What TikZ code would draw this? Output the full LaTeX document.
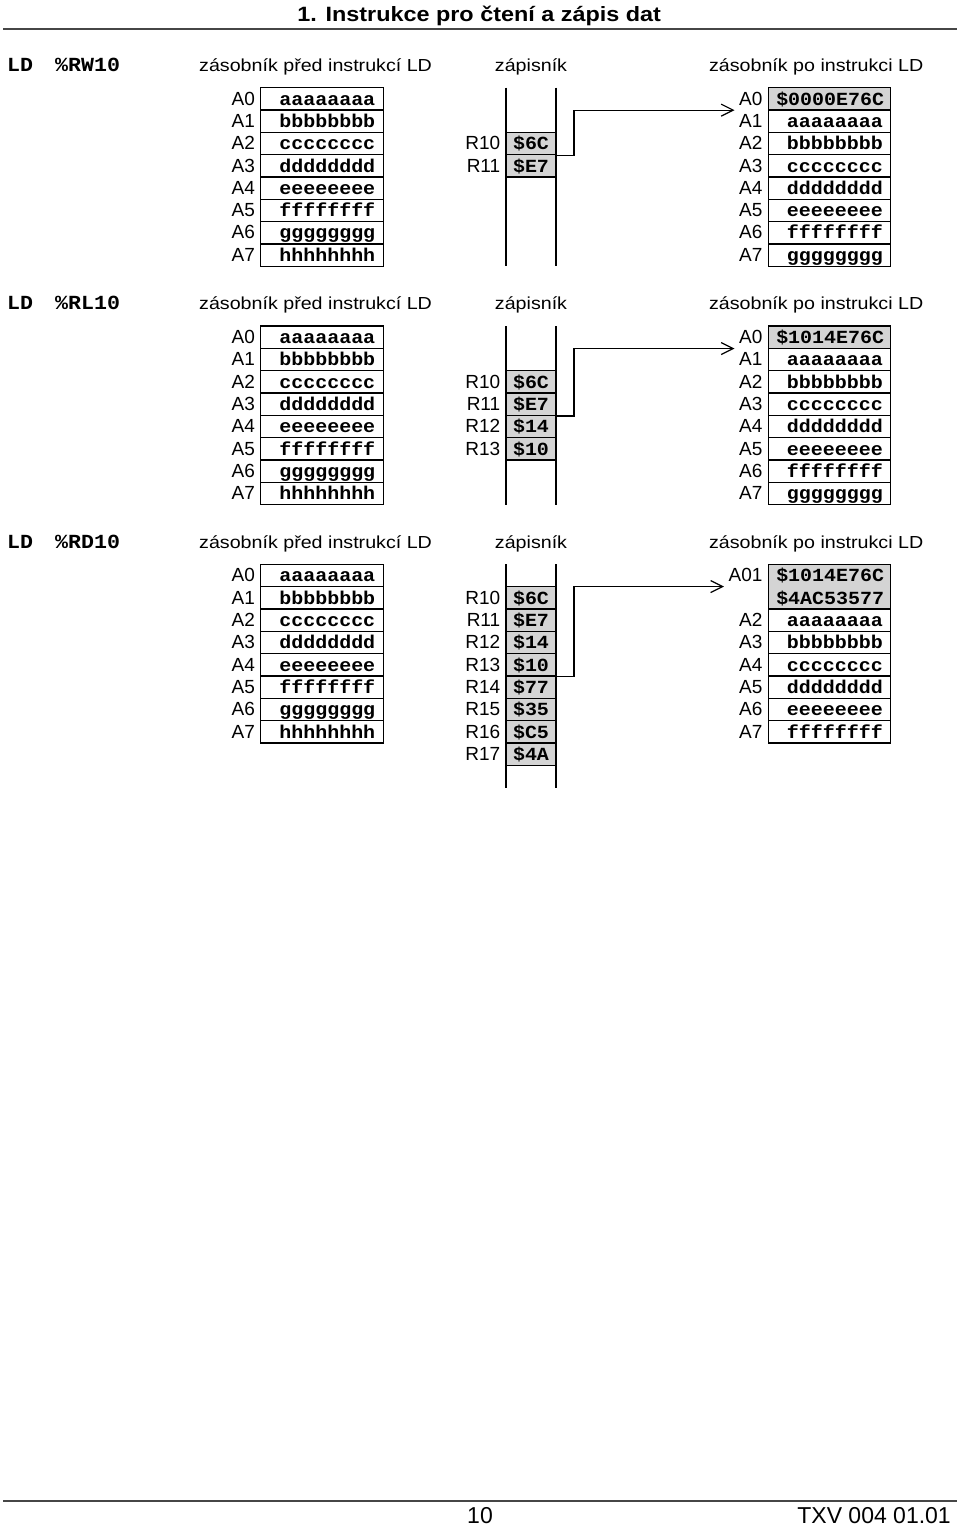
\documentclass[tikz,border=0pt]{standalone}
\usepackage{fontspec}
\usepackage{xcolor}
\newfontfamily\widesans[FakeStretch=1.13]{Liberation Sans}
\newfontfamily\plainsans{Liberation Sans}
\newfontfamily\codefont[FakeStretch=1.08]{Liberation Mono}
\newcommand{\txtfont}{\plainsans\fontsize{19}{22}\selectfont}
\newcommand{\headfont}{\widesans\fontsize{17.4}{21}\selectfont}
\newcommand{\valfont}{\codefont\bfseries\fontsize{18.5}{22.33}\selectfont}
\newcommand{\opfont}{\codefont\bfseries\fontsize{20}{24}\selectfont}
\newcommand{\titlefont}{\widesans\bfseries\fontsize{20.7}{24}\selectfont}
\newcommand{\footfont}{\plainsans\fontsize{23}{26}\selectfont}
\definecolor{cellgray}{RGB}{212,212,212}
\definecolor{rulegray}{RGB}{70,70,70}
\usepackage{tikz}
\usetikzlibrary{arrows.meta, positioning, calc}

\tikzset{
  cell/.style={draw, line width=1.2pt, minimum width=122.5pt, minimum height=22.33pt,
    inner xsep=8pt, inner ysep=0pt, text width=106.5pt, align=right,
    text height=17.4pt, text depth=4.93pt, font=\valfont},
  hot/.style={fill=cellgray},
  reg/.style={draw, line width=1.2pt, fill=cellgray, minimum width=50pt, minimum height=22.33pt,
    inner sep=0pt, text height=17.4pt, text depth=4.93pt, font=\valfont},
  lbl/.style={anchor=east, inner sep=0pt, text height=17.4pt, text depth=4.93pt, font=\txtfont},
  head/.style={anchor=base west, inner sep=0pt, font=\headfont},
  rail/.style={line width=1.2pt},
  rulebar/.style={line width=2.2pt, rulegray},
  link/.style={line width=1.2pt, -{Straight Barb[length=12pt,width=12pt]}},
}

\begin{document}
\begin{tikzpicture}[x=1pt, y=-1pt]
  \useasboundingbox (0,0) rectangle (960,1527);

  % Page title and rules
  \node[anchor=base, inner sep=0pt, font=\titlefont] (title) at (479.2,21) {1. Instrukce pro čtení a zápis dat};
  \draw[rulebar] (3,29) -- (957,29);
  \draw[rulebar] (3,1501) -- (957,1501);
  \node[anchor=base, inner sep=0pt, font=\footfont] (pgno) at (480,1523.3) {10};
  \node[anchor=base east, inner sep=0pt, font=\footfont] (docid) at (951,1523.3) {TXV 004 01.01};

  % Section headers
  \foreach \s/\hy/\arg in {1/71.3/RW10, 2/309.7/RL10, 3/548.1/RD10} {
    \node[head, font=\opfont] (h\s-ins) at (7,\hy) {LD};
    \node[head, font=\opfont] (h\s-arg) at (55,\hy) {\%\arg};
    \node[head] (h\s-pre) at (199,\hy) {zásobník před instrukcí LD};
    \node[head, anchor=base] (h\s-reg) at (531,\hy) {zápisník};
    \node[head, anchor=base east] (h\s-post) at (923.5,\hy) {zásobník po instrukci LD};
  }

  % Stacks before the instruction
  \foreach \s/\yy in {1/87.6, 2/326.0, 3/564.4}
    \foreach \v [count=\i from 0] in {a,b,c,d,e,f,g,h} {
      \node[cell] (s\s-a\i) at (322,{\yy+22.33*\i+11.17}) {\v\v\v\v\v\v\v\v};
      \node[lbl] (s\s-la\i) at ([xshift=-5pt]s\s-a\i.west) {A\i};
    }

  % Scratchpad rails
  \foreach \s/\yy/\n in {1/87.6/8, 2/326.0/8, 3/564.4/10} {
    \draw[rail] (506,\yy) -- (506,{\yy+22.33*\n});
    \draw[rail] (556,\yy) -- (556,{\yy+22.33*\n});
  }

  % --- LD %RW10 ---
  \foreach \v [count=\i from 0] in {6C,E7} {
    \node[reg] (s1-r\i) at (531,{87.6+22.33*(\i+2)+11.17}) {\$\v};
    \node[lbl] (s1-lr\i) at ([xshift=-5pt]s1-r\i.west) {R1\i};
  }
  \node[cell, hot] (s1-b0) at (829.5,{87.6+11.17}) {\$0000E76C};
  \node[lbl] (s1-lb0) at ([xshift=-5pt]s1-b0.west) {A0};
  \foreach \v [count=\i from 1] in {a,b,c,d,e,f,g} {
    \node[cell] (s1-b\i) at (829.5,{87.6+22.33*\i+11.17}) {\v\v\v\v\v\v\v\v};
    \node[lbl] (s1-lb\i) at ([xshift=-5pt]s1-b\i.west) {A\i};
  }
  \coordinate (s1-tip) at ([xshift=-4.5pt]s1-lb0.south west);
  \draw[link] (s1-r0.south east) -- ++(17.3,0) |- (s1-tip);

  % --- LD %RL10 ---
  \foreach \v [count=\i from 0] in {6C,E7,14,10} {
    \node[reg] (s2-r\i) at (531,{326.0+22.33*(\i+2)+11.17}) {\$\v};
    \node[lbl] (s2-lr\i) at ([xshift=-5pt]s2-r\i.west) {R1\i};
  }
  \node[cell, hot] (s2-b0) at (829.5,{326.0+11.17}) {\$1014E76C};
  \node[lbl] (s2-lb0) at ([xshift=-5pt]s2-b0.west) {A0};
  \foreach \v [count=\i from 1] in {a,b,c,d,e,f,g} {
    \node[cell] (s2-b\i) at (829.5,{326.0+22.33*\i+11.17}) {\v\v\v\v\v\v\v\v};
    \node[lbl] (s2-lb\i) at ([xshift=-5pt]s2-b\i.west) {A\i};
  }
  \coordinate (s2-tip) at ([xshift=-4.5pt]s2-lb0.south west);
  \draw[link] (s2-r1.south east) -- ++(17.3,0) |- (s2-tip);

  % --- LD %RD10 ---
  \foreach \v [count=\i from 0] in {6C,E7,14,10,77,35,C5,4A} {
    \node[reg] (s3-r\i) at (531,{564.4+22.33*(\i+1)+11.17}) {\$\v};
    \node[lbl] (s3-lr\i) at ([xshift=-5pt]s3-r\i.west) {R1\i};
  }
  \node[cell, hot, minimum height=44.66pt, text depth=27.26pt] (s3-b0) at (829.5,{564.4+22.33}) {\$1014E76C\\\$4AC53577};
  \node[lbl, anchor=north east] (s3-lb0) at ([xshift=-5pt]s3-b0.north west) {A01};
  \foreach \v [count=\i from 2] in {a,b,c,d,e,f} {
    \node[cell] (s3-b\i) at (829.5,{564.4+22.33*\i+11.17}) {\v\v\v\v\v\v\v\v};
    \node[lbl] (s3-lb\i) at ([xshift=-5pt]s3-b\i.west) {A\i};
  }
  \coordinate (s3-tip) at ([xshift=-4.5pt]s3-lb0.south west);
  \draw[link] (s3-r3.south east) -- ++(17.3,0) |- (s3-tip);
\end{tikzpicture}
\end{document}
